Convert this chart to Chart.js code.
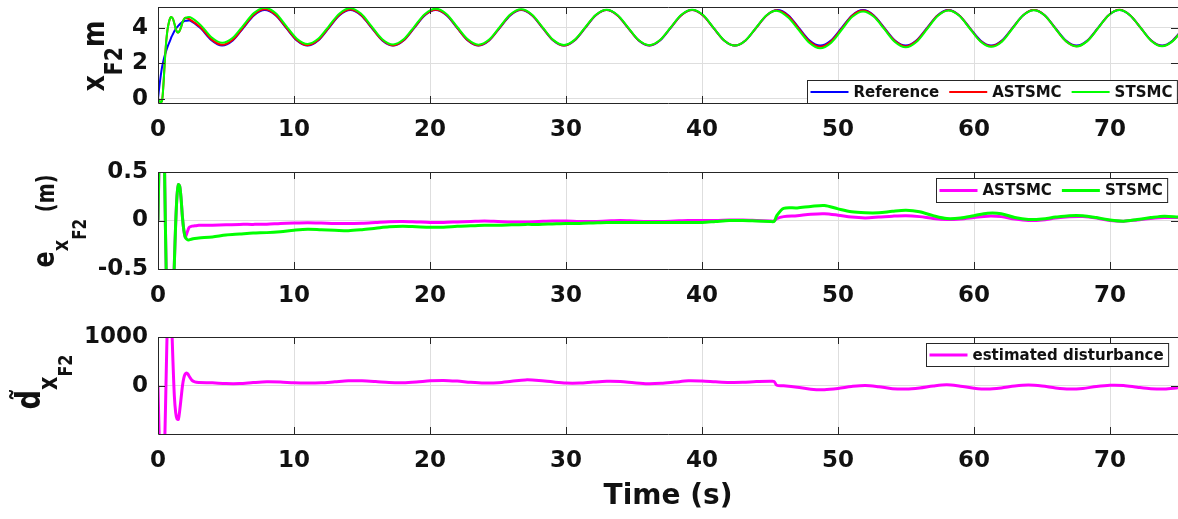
<!DOCTYPE html>
<html>
<head>
<meta charset="utf-8">
<title>x_F2 tracking</title>
<script src="https://cdn.jsdelivr.net/npm/chart.js@4.4.1/dist/chart.umd.min.js"></script>
<style>
  body { margin: 0; background: #fff; }
  #wrap { position: relative; width: 1178px; height: 519px; overflow: hidden; background: #fff; }
  #wrap canvas { position: absolute; left: 0; }
</style>
</head>
<body>
<div id="wrap">
  <canvas id="posChart" width="1178" height="150" style="top:0px"></canvas>
  <canvas id="errChart" width="1178" height="170" style="top:150px"></canvas>
  <canvas id="distChart" width="1178" height="199" style="top:320px"></canvas>
</div>
<script>
// ---- data ----

// axis ticks
const timeTicks = [0, 10, 20, 30, 40, 50, 60, 70];
const posTicks = [0, 2, 4];
const errTicks = [-0.5, 0, 0.5];
const distTicks = [0, 1000];

// top panel: time samples (s)
const tTop = [0, 0.1, 0.2, 0.3, 0.4, 0.5, 0.6, 0.7, 0.8, 0.9, 1.0, 1.1, 1.2, 1.3, 1.4, 1.5, 1.6, 1.7, 1.8, 1.9, 2.0,
  2.36, 3.14, 3.93, 4.71, 5.50, 6.28, 7.07, 7.85, 8.64, 9.42, 10.21, 11.00, 11.78, 12.57, 13.35, 14.14, 14.92,
  15.71, 16.49, 17.28, 18.06, 18.85, 19.63, 20.42, 21.21, 21.99, 22.78, 23.56, 24.35, 25.13, 25.92, 26.70, 27.49,
  28.27, 29.06, 29.85, 30.63, 31.42, 32.20, 32.99, 33.77, 34.56, 35.34, 36.13, 36.91, 37.70, 38.48, 39.27, 40.06,
  40.84, 41.63, 42.41, 43.20, 43.98, 44.77, 45.55, 46.34, 47.12, 47.91, 48.69, 49.48, 50.27, 51.05, 51.84, 52.62,
  53.41, 54.19, 54.98, 55.76, 56.55, 57.33, 58.12, 58.90, 59.69, 60.48, 61.26, 62.05, 62.83, 63.62, 64.40, 65.19,
  65.97, 66.76, 67.54, 68.33, 69.12, 69.90, 70.69, 71.47, 72.26, 73.04, 73.83, 74.61, 75.40];

const xRef = [0, 0.7, 1.3, 1.8, 2.15, 2.45, 2.7, 2.92, 3.12, 3.3, 3.5, 3.65, 3.8, 3.92, 4.03, 4.12, 4.2, 4.27, 4.33, 4.37, 4.39,
  4.40, 3.97, 3.30, 3.00, 3.29,
  4.00, 4.71, 5.00, 4.71, 4.00, 3.29, 3.00, 3.29,
  4.00, 4.71, 5.00, 4.71, 4.00, 3.29, 3.00, 3.29,
  4.00, 4.71, 5.00, 4.71, 4.00, 3.29, 3.00, 3.29,
  4.00, 4.71, 5.00, 4.71, 4.00, 3.29, 3.00, 3.29,
  4.00, 4.71, 5.00, 4.71, 4.00, 3.29, 3.00, 3.29,
  4.00, 4.71, 5.00, 4.71, 4.00, 3.29, 3.00, 3.29,
  4.00, 4.71, 5.00, 4.71, 4.00, 3.29, 3.00, 3.29,
  4.00, 4.71, 5.00, 4.71, 4.00, 3.29, 3.00, 3.29,
  4.00, 4.71, 5.00, 4.71, 4.00, 3.29, 3.00, 3.29,
  4.00, 4.71, 5.00, 4.71, 4.00, 3.29, 3.00, 3.29,
  4.00, 4.71, 5.00, 4.71, 4.00, 3.29, 3.00, 3.29,
  4.00];

const xAst = [0, -0.1, -0.2, -0.1, 0.8, 2.1, 3.2, 3.9, 4.3, 4.55, 4.6, 4.5, 4.25, 3.95, 3.77, 3.75, 3.85, 4.05, 4.3, 4.47, 4.56,
  4.46, 4.02, 3.35, 3.05, 3.33,
  4.04, 4.75, 5.04, 4.74, 4.03, 3.32, 3.02, 3.31,
  4.03, 4.74, 5.03, 4.74, 4.02, 3.31, 3.01, 3.30,
  4.02, 4.73, 5.02, 4.73, 4.01, 3.30, 3.01, 3.30,
  4.01, 4.73, 5.01, 4.72, 4.01, 3.30, 3.00, 3.30,
  4.01, 4.72, 5.00, 4.71, 4.00, 3.30, 3.01, 3.30,
  4.01, 4.71, 5.00, 4.71, 4.00, 3.29, 3.00, 3.29,
  4.00, 4.71, 4.98, 4.67, 3.95, 3.23, 2.93, 3.23,
  3.95, 4.68, 4.97, 4.68, 3.96, 3.25, 2.95, 3.25,
  3.97, 4.69, 4.99, 4.70, 3.98, 3.25, 2.96, 3.25,
  3.98, 4.71, 5.00, 4.71, 3.98, 3.25, 2.96, 3.26,
  3.98, 4.71, 5.01, 4.71, 3.99, 3.27, 2.97, 3.26,
  3.97];

const xSt = [0, -0.1, -0.2, -0.1, 0.8, 2.1, 3.2, 3.9, 4.3, 4.55, 4.6, 4.5, 4.25, 3.95, 3.77, 3.75, 3.85, 4.05, 4.3, 4.47, 4.56,
  4.60, 4.15, 3.47, 3.16, 3.44,
  4.14, 4.84, 5.13, 4.83, 4.11, 3.39, 3.09, 3.38,
  4.10, 4.81, 5.10, 4.80, 4.08, 3.36, 3.06, 3.35,
  4.07, 4.78, 5.07, 4.78, 4.06, 3.35, 3.05, 3.34,
  4.05, 4.76, 5.04, 4.75, 4.04, 3.32, 3.03, 3.32,
  4.03, 4.73, 5.02, 4.73, 4.02, 3.31, 3.02, 3.31,
  4.02, 4.73, 5.02, 4.73, 4.01, 3.29, 3.00, 3.29,
  4.01, 4.72, 4.95, 4.58, 3.87, 3.15, 2.85, 3.15,
  3.89, 4.62, 4.92, 4.63, 3.92, 3.20, 2.90, 3.20,
  3.93, 4.67, 4.98, 4.69, 3.96, 3.23, 2.93, 3.22,
  3.96, 4.70, 4.99, 4.70, 3.97, 3.24, 2.95, 3.25,
  3.98, 4.71, 5.00, 4.71, 3.99, 3.26, 2.96, 3.25,
  3.97];

// middle + bottom panels: time samples (s)
const tEst = [0, 0.1, 0.2, 0.3, 0.4, 0.5, 0.6, 0.7, 0.8, 0.9, 1.0, 1.1, 1.2, 1.3, 1.4, 1.5, 1.6, 1.7, 1.8, 1.9, 2.0, 2.1, 2.2, 2.3,
  2.5, 2.7,
  3, 4, 5, 6, 7, 8, 9, 10, 11, 12, 13, 14, 15, 16, 17, 18, 19, 20, 21, 22, 23, 24,
  25, 26, 27, 28, 29, 30, 31, 32, 33, 34, 35, 36, 37, 38, 39, 40, 41, 42, 43, 44, 45,
  45.3, 45.5,
  46, 47, 48, 49, 50, 51, 52, 53, 54, 55, 56, 57, 58, 59, 60,
  61, 62, 63, 64, 65, 66, 67, 68, 69, 70, 71, 72, 73, 74, 75];

const eAst = [0, 0.8, 1.5, 1.9, 1.35, 0.35, -0.5, -0.98, -1.18, -1.25, -1.1, -0.85, -0.45, -0.03, 0.26, 0.37, 0.35, 0.22, 0.03, -0.1, -0.17, -0.14, -0.1, -0.07,
  -0.058, -0.055,
  -0.05, -0.048, -0.045, -0.04, -0.04, -0.038, -0.03, -0.025, -0.022, -0.025, -0.03, -0.03, -0.028, -0.02, -0.012, -0.01, -0.015, -0.02, -0.02, -0.015, -0.01, -0.005,
  -0.01, -0.015, -0.015, -0.01, -0.005, -0.005, -0.01, -0.01, -0.005, 0, -0.005, -0.01, -0.01, -0.005, 0, 0, 0, 0.005, 0.005, 0, -0.005,
  -0.005, 0.02,
  0.04, 0.05, 0.065, 0.07, 0.055, 0.035, 0.027, 0.035, 0.045, 0.05, 0.04, 0.02, 0.01, 0.015, 0.03,
  0.045, 0.04, 0.015, 0, 0.005, 0.025, 0.038, 0.04, 0.025, 0, -0.007, 0.005, 0.02, 0.03, 0.03];

const eSt = [0, 0.8, 1.5, 1.9, 1.35, 0.35, -0.5, -0.98, -1.18, -1.25, -1.1, -0.85, -0.45, -0.03, 0.26, 0.37, 0.35, 0.22, 0.03, -0.1, -0.17, -0.19, -0.2, -0.2,
  -0.19, -0.185,
  -0.18, -0.17, -0.15, -0.14, -0.13, -0.125, -0.115, -0.1, -0.09, -0.095, -0.1, -0.105, -0.095, -0.08, -0.065, -0.06, -0.065, -0.07, -0.07, -0.06, -0.055, -0.05,
  -0.05, -0.045, -0.04, -0.04, -0.035, -0.03, -0.03, -0.025, -0.02, -0.02, -0.02, -0.02, -0.02, -0.02, -0.02, -0.02, -0.01, 0, 0, -0.005, -0.01,
  -0.01, 0.05,
  0.125, 0.13, 0.145, 0.155, 0.12, 0.09, 0.08, 0.08, 0.095, 0.105, 0.09, 0.05, 0.02, 0.025, 0.05,
  0.075, 0.07, 0.03, 0.01, 0.015, 0.035, 0.05, 0.05, 0.03, 0.005, -0.007, 0.01, 0.03, 0.045, 0.035];

const dEst = [0, -1200, -2200, -2400, -2000, -1100, 200, 1400, 2000, 1900, 1300, 500, -200, -550, -680, -690, -500, -250, 0, 160, 240, 260, 240, 190,
  110, 80,
  68, 60, 45, 45, 65, 80, 75, 60, 55, 60, 80, 100, 100, 85, 65, 60, 75, 100, 110, 95, 70, 55,
  60, 90, 120, 110, 80, 55, 55, 75, 90, 85, 60, 42, 50, 75, 100, 95, 80, 68, 70, 85, 90,
  88, 10,
  0, -30, -70, -80, -55, -15, 7, -20, -60, -68, -45, -5, 20, -10, -50,
  -68, -45, -5, 14, -5, -45, -68, -55, -15, 10, 5, -30, -60, -68, -40];

// ---- styling ----
const INK = '#262626';
const GRID = '#dedede';
const FONT = '"DejaVu Sans", "Liberation Sans", sans-serif';

/**
 * Pair up time and value arrays into {x, y} points
 */
function toPoints(ts, vs) {
    return ts.map((t, i) => ({ x: t, y: vs[i] }));
}

/**
 * Box around the axes with inward tick marks (MATLAB look)
 */
const axesBox = {
    id: 'axesBox',
    afterDatasetsDraw(chart) {
        const { ctx, chartArea: a, scales } = chart;
        ctx.save();
        ctx.strokeStyle = INK;
        ctx.lineWidth = 1;
        ctx.beginPath();
        scales.x.ticks.forEach(t => {
            const px = Math.round(scales.x.getPixelForValue(t.value)) + 0.5;
            ctx.moveTo(px, a.bottom); ctx.lineTo(px, a.bottom - 7);
            ctx.moveTo(px, a.top); ctx.lineTo(px, a.top + 7);
        });
        scales.y.ticks.forEach(t => {
            const py = Math.round(scales.y.getPixelForValue(t.value)) + 0.5;
            ctx.moveTo(a.left, py); ctx.lineTo(a.left + 7, py);
            ctx.moveTo(a.right, py); ctx.lineTo(a.right - 7, py);
        });
        // frame
        ctx.moveTo(a.left + 0.5, a.top + 0.5); ctx.lineTo(a.right + 0.5, a.top + 0.5);
        ctx.moveTo(a.left + 0.5, a.bottom + 0.5); ctx.lineTo(a.right + 0.5, a.bottom + 0.5);
        ctx.moveTo(a.left + 0.5, a.top + 0.5); ctx.lineTo(a.left + 0.5, a.bottom + 0.5);
        ctx.moveTo(a.right + 0.5, a.top + 0.5); ctx.lineTo(a.right + 0.5, a.bottom + 0.5);
        ctx.stroke();
        ctx.restore();
    }
};

/**
 * Legend drawn inside the axes, right aligned
 */
function insideLegend(cfg) {
    return {
        id: 'insideLegend',
        afterDraw(chart) {
            const ctx = chart.ctx;
            const sets = cfg.items.map(i => chart.data.datasets[i]);
            ctx.save();
            ctx.font = `bold 15px ${FONT}`;
            const widths = sets.map(ds => ctx.measureText(ds.label).width);
            let w = 3;
            widths.forEach((tw, k) => { w += 38 + 5 + tw + (k < widths.length - 1 ? 10 : 5); });
            const x0 = Math.round(cfg.right - w) + 0.5;
            const y0 = cfg.top + 0.5;
            ctx.fillStyle = '#fff';
            ctx.fillRect(x0, y0, w, cfg.height);
            ctx.strokeStyle = INK;
            ctx.lineWidth = 1;
            ctx.strokeRect(x0, y0, w, cfg.height);
            const cy = y0 + cfg.height / 2;
            let x = x0 + 3;
            sets.forEach((ds, k) => {
                ctx.strokeStyle = ds.borderColor;
                ctx.lineWidth = ds.borderWidth;
                ctx.beginPath();
                ctx.moveTo(x, cy); ctx.lineTo(x + 38, cy);
                ctx.stroke();
                x += 43;
                ctx.fillStyle = '#111';
                ctx.textBaseline = 'middle';
                ctx.textAlign = 'left';
                ctx.fillText(ds.label, x, cy + 1);
                x += widths[k] + 10;
            });
            ctx.restore();
        }
    };
}

/**
 * Rotated y label with sub/superscript parts
 */
function sideLabel(cfg) {
    return {
        id: 'sideLabel',
        afterDraw(chart) {
            const ctx = chart.ctx;
            ctx.save();
            ctx.fillStyle = '#111';
            ctx.textBaseline = 'alphabetic';
            ctx.textAlign = 'left';
            const widths = cfg.parts.map(p => {
                ctx.font = `bold ${p.size}px ${FONT}`;
                return ctx.measureText(p.text).width;
            });
            const total = widths.reduce((s, v) => s + v, 0);
            ctx.translate(cfg.x, cfg.cy);
            ctx.rotate(-Math.PI / 2);
            ctx.scale(cfg.squeeze, 1);
            let x = -total / 2;
            cfg.parts.forEach((p, i) => {
                ctx.font = `bold ${p.size}px ${FONT}`;
                ctx.fillText(p.text, x, p.shift);
                x += widths[i];
            });
            ctx.restore();
        }
    };
}

/**
 * Plain horizontal caption (x axis title)
 */
function caption(cfg) {
    return {
        id: 'caption',
        afterDraw(chart) {
            const { ctx, chartArea: a } = chart;
            ctx.save();
            ctx.fillStyle = '#111';
            ctx.font = `bold 28px ${FONT}`;
            ctx.textAlign = 'center';
            ctx.textBaseline = 'alphabetic';
            ctx.fillText(cfg.text, (a.left + a.right) / 2, cfg.y);
            ctx.restore();
        }
    };
}

/**
 * Build one panel
 */
function makePanel(id, cfg) {
    const canvas = document.getElementById(id);
    const tickFont = { family: FONT, size: 23, weight: 'bold' };
    return new Chart(canvas, {
        type: 'line',
        data: { datasets: cfg.datasets },
        options: {
            responsive: false,
            maintainAspectRatio: false,
            animation: false,
            events: [],
            layout: { padding: { top: cfg.padTop, right: 0, bottom: 0, left: 0 } },
            elements: { point: { radius: 0 }, line: { tension: 0.3 } },
            plugins: { legend: { display: false }, tooltip: { enabled: false } },
            scales: {
                x: {
                    type: 'linear',
                    min: 0,
                    max: 75,
                    afterBuildTicks: s => { s.ticks = timeTicks.map(v => ({ value: v })); },
                    afterFit: s => { s.height = cfg.axisH; s.paddingLeft = 0; s.paddingRight = 0; },
                    grid: { color: GRID, drawTicks: false },
                    border: { display: false },
                    ticks: { color: '#111', font: tickFont, padding: 13, maxRotation: 0, autoSkip: false }
                },
                y: {
                    type: 'linear',
                    min: cfg.yMin,
                    max: cfg.yMax,
                    afterBuildTicks: s => { s.ticks = cfg.yTicks.map(v => ({ value: v })); },
                    afterFit: s => { s.width = 158; s.paddingTop = 0; s.paddingBottom = 0; },
                    grid: { color: GRID, drawTicks: false },
                    border: { display: false },
                    ticks: { color: '#111', font: tickFont, padding: 10, callback: v => String(v) }
                }
            }
        },
        plugins: [axesBox].concat(cfg.extra)
    });
}

document.addEventListener('DOMContentLoaded', function() {
    // x_F2 tracking
    makePanel('posChart', {
        padTop: 7, axisH: 47, yMin: -0.23, yMax: 5.17, yTicks: posTicks,
        datasets: [
            { label: 'Reference', data: toPoints(tTop, xRef), borderColor: '#0000ff', borderWidth: 2, order: 3, clip: 0 },
            { label: 'ASTSMC', data: toPoints(tTop, xAst), borderColor: '#ff0000', borderWidth: 2, order: 2, clip: 0 },
            { label: 'STSMC', data: toPoints(tTop, xSt), borderColor: '#00ff00', borderWidth: 2, order: 1, clip: 0 }
        ],
        extra: [
            insideLegend({ items: [0, 1, 2], right: 1177, top: 80, height: 23 }),
            sideLabel({ x: 104, cy: 56, squeeze: 0.85, parts: [
                { text: 'x', size: 30, shift: 0 },
                { text: 'F2', size: 24, shift: 18 },
                { text: 'm', size: 30, shift: 0 }
            ] })
        ]
    });

    // tracking error
    makePanel('errChart', {
        padTop: 22, axisH: 51, yMin: -0.5, yMax: 0.5, yTicks: errTicks,
        datasets: [
            { label: 'ASTSMC', data: toPoints(tEst, eAst), borderColor: '#ff00ff', borderWidth: 3, order: 2, clip: 0 },
            { label: 'STSMC', data: toPoints(tEst, eSt), borderColor: '#00ff00', borderWidth: 3, order: 1, clip: 0 }
        ],
        extra: [
            insideLegend({ items: [0, 1], right: 1167, top: 28, height: 24 }),
            sideLabel({ x: 54, cy: 71, squeeze: 0.8, parts: [
                { text: 'e', size: 30, shift: 0 },
                { text: 'x', size: 22, shift: 14 },
                { text: 'F2', size: 19, shift: 32 },
                { text: ' (m)', size: 24, shift: 0 }
            ] })
        ]
    });

    // estimated disturbance
    makePanel('distChart', {
        padTop: 17, axisH: 85, yMin: -990, yMax: 1000, yTicks: distTicks,
        datasets: [
            { label: 'estimated disturbance', data: toPoints(tEst, dEst), borderColor: '#ff00ff', borderWidth: 3, order: 1, clip: 0 }
        ],
        extra: [
            insideLegend({ items: [0], right: 1168, top: 23, height: 23 }),
            sideLabel({ x: 40, cy: 62, squeeze: 0.8, parts: [
                { text: 'd\u0303', size: 34, shift: 0 },
                { text: 'x', size: 26, shift: 17 },
                { text: 'F2', size: 20, shift: 32 }
            ] }),
            caption({ text: 'Time (s)', y: 184 })
        ]
    });
});
</script>
</body>
</html>
